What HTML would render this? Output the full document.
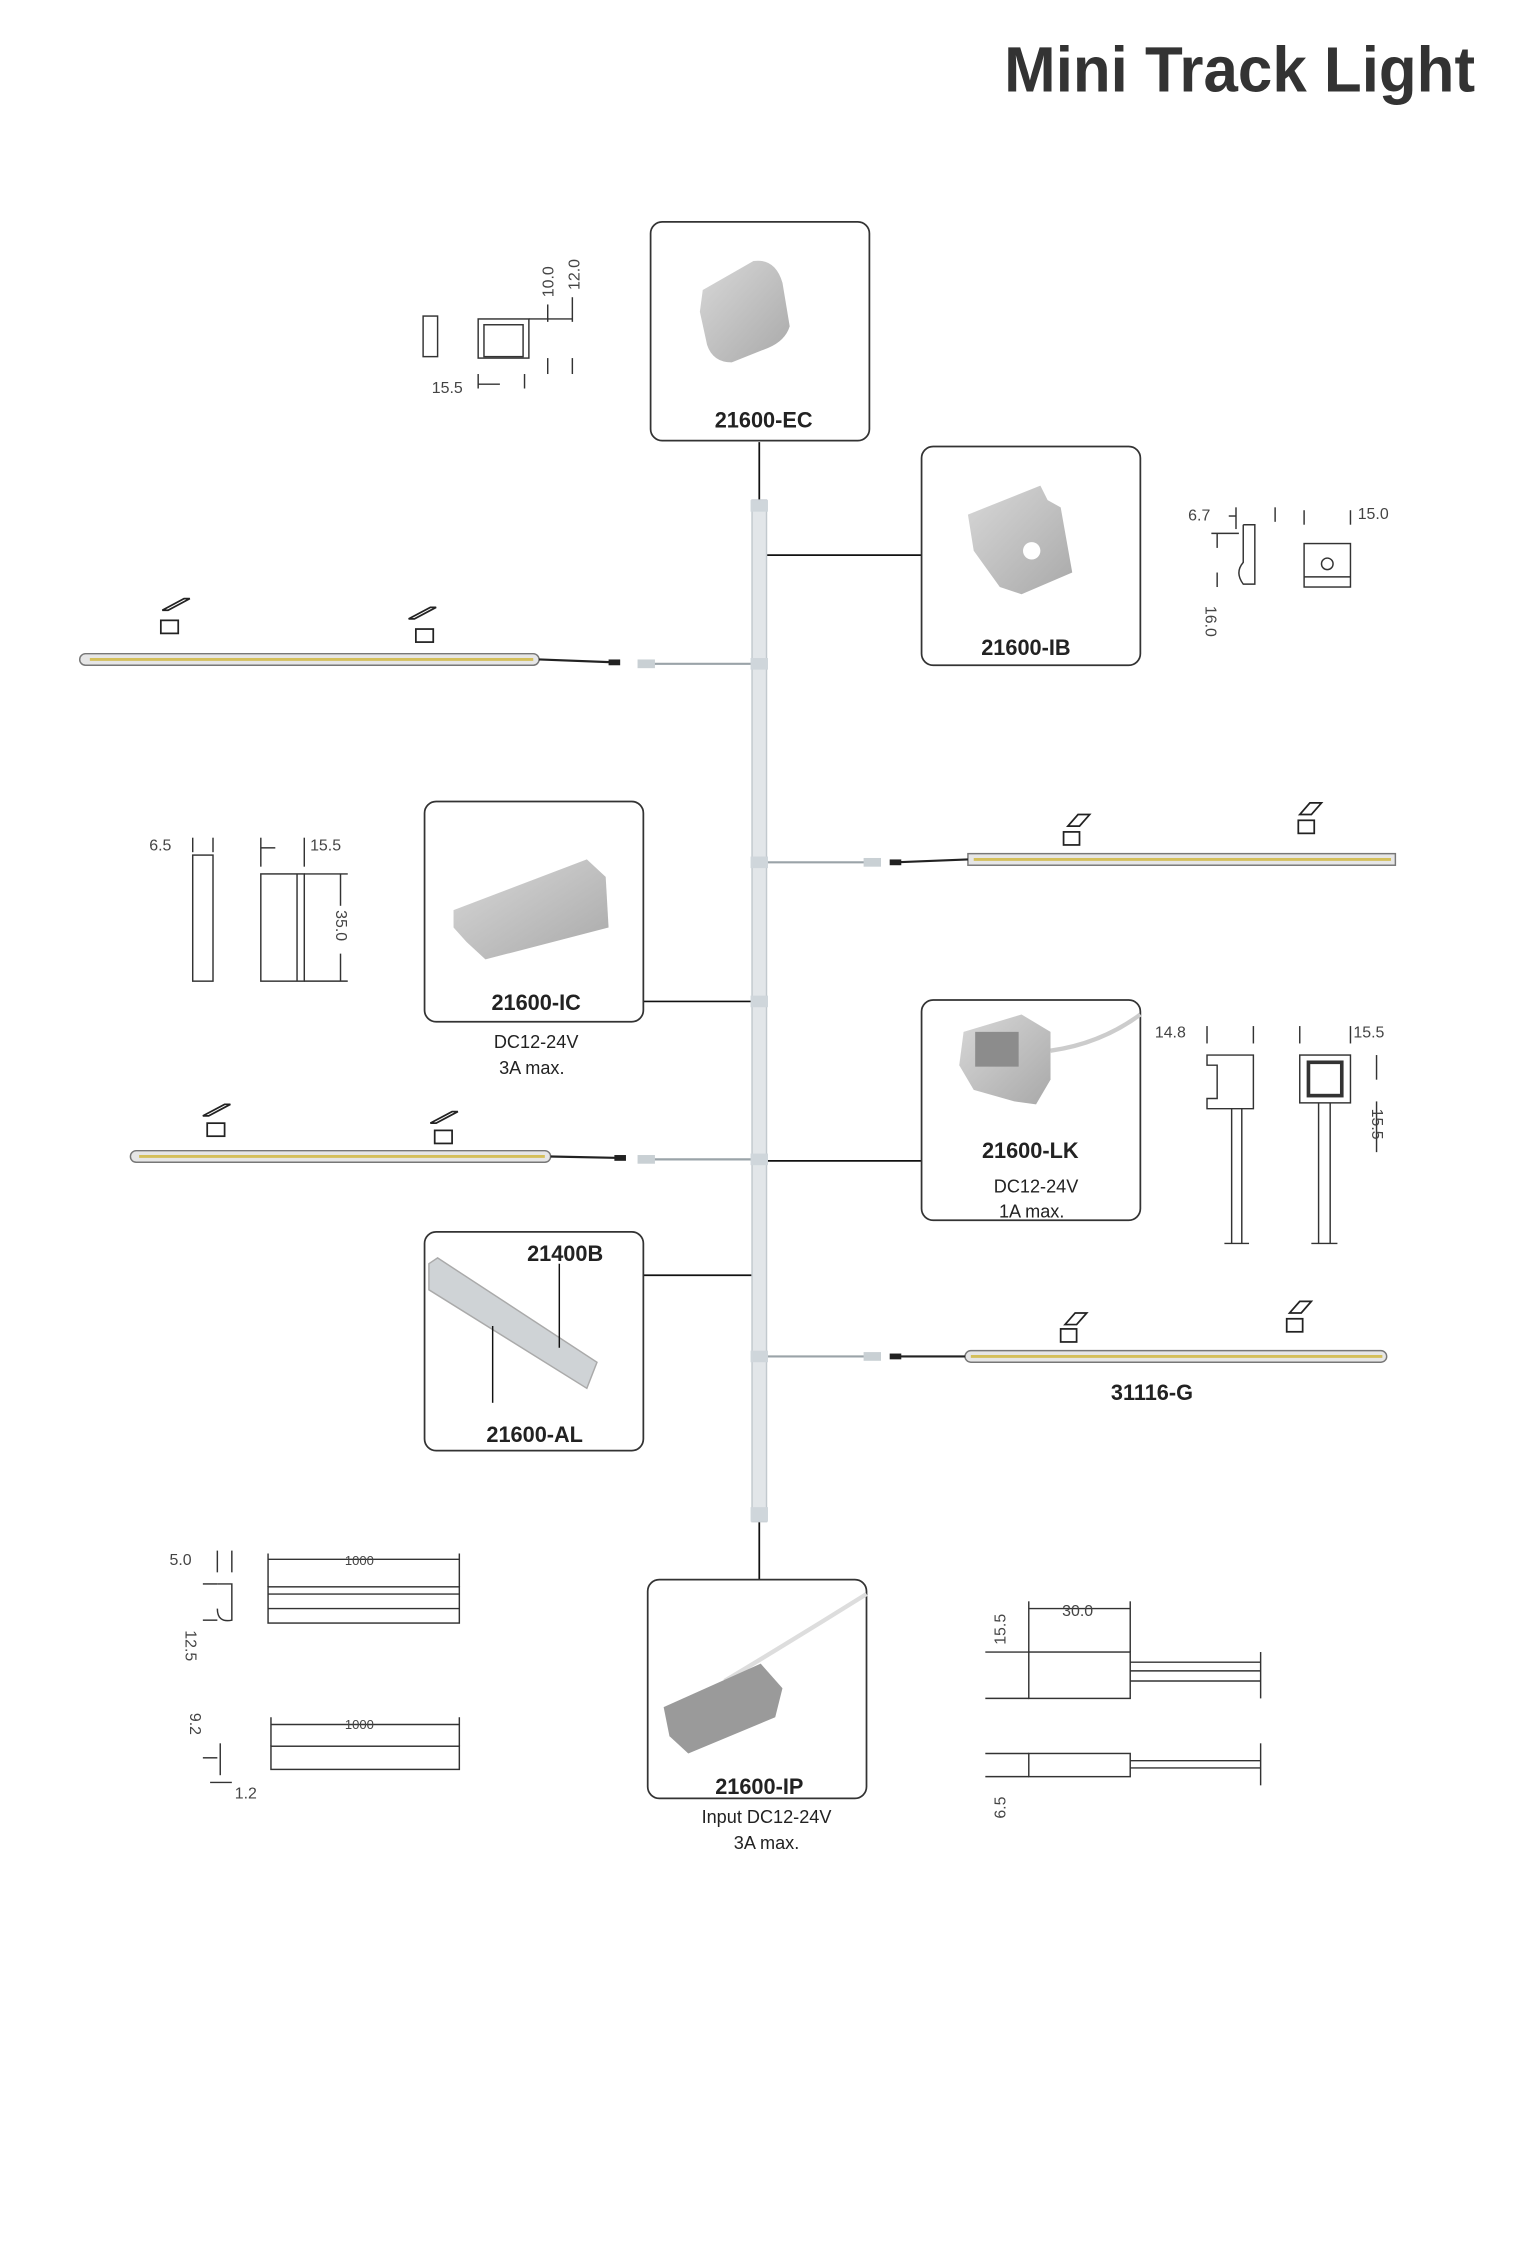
<!DOCTYPE html>
<html><head><meta charset="utf-8"><style>
html,body{margin:0;padding:0;background:#fff;}
svg{display:block}
text{font-family:"Liberation Sans",sans-serif;fill:#222}
.b{font-weight:bold;font-size:15px}
.s{font-size:12.5px}
.d{font-size:11px;fill:#444}
</style></head><body>
<svg width="1520" height="2255" viewBox="0 0 1049 1556" xmlns="http://www.w3.org/2000/svg">
<defs>
<linearGradient id="g" x1="0" y1="0" x2="1" y2="1"><stop offset="0" stop-color="#d8d8d8"/><stop offset="1" stop-color="#a9a9a9"/></linearGradient>
</defs>
<text x="1018" y="63" text-anchor="end" font-size="44" font-weight="bold" textLength="325" lengthAdjust="spacingAndGlyphs" style="fill:#333">Mini Track Light</text>

<g stroke="#111" stroke-width="1.2" fill="none">
<line x1="524" y1="305" x2="524" y2="345"/>
<line x1="524" y1="1050" x2="524" y2="1090"/>
<line x1="529" y1="383" x2="636" y2="383"/>
<line x1="444" y1="691" x2="519" y2="691"/>
<line x1="529" y1="801" x2="636" y2="801"/>
<line x1="444" y1="880" x2="519" y2="880"/>
</g>
<g stroke="#9aa3a8" stroke-width="1.5">
<line x1="447" y1="458" x2="519" y2="458"/>
<line x1="529" y1="595" x2="605" y2="595"/>
<line x1="447" y1="800" x2="519" y2="800"/>
<line x1="529" y1="936" x2="605" y2="936"/>
</g>
<rect x="519" y="345" width="10" height="705" fill="#e2e6e9" stroke="#c2c9ce"/>
<g fill="#cfd6db"><rect x="518" y="345" width="12" height="8"/><rect x="518" y="454" width="12" height="8"/><rect x="518" y="591" width="12" height="8"/><rect x="518" y="687" width="12" height="8"/><rect x="518" y="796" width="12" height="8"/><rect x="518" y="932" width="12" height="8"/><rect x="518" y="1040" width="12" height="10"/></g>
<g fill="#c9d0d4"><rect x="440" y="455" width="12" height="6"/><rect x="596" y="592" width="12" height="6"/><rect x="440" y="797" width="12" height="6"/><rect x="596" y="933" width="12" height="6"/></g>

<g fill="#fff" stroke="#333" stroke-width="1.2">
<rect x="449" y="153" width="151" height="151" rx="8"/>
<rect x="636" y="308" width="151" height="151" rx="8"/>
<rect x="293" y="553" width="151" height="152" rx="8"/>
<rect x="636" y="690" width="151" height="152" rx="8"/>
<rect x="293" y="850" width="151" height="151" rx="8"/>
<rect x="447" y="1090" width="151" height="151" rx="8"/>
</g>

<path d="M485 200 L520 180 Q535 178 540 195 L545 225 Q542 235 530 240 L505 250 Q492 250 488 238 L483 215 Z" fill="url(#g)"/>
<text class="b" x="527" y="295" text-anchor="middle">21600-EC</text>
<path d="M668 355 L718 335 L723 345 L732 350 L740 395 L705 410 L690 405 L672 380 Z" fill="url(#g)"/>
<circle cx="712" cy="380" r="6" fill="#fff"/>
<text class="b" x="708" y="452" text-anchor="middle">21600-IB</text>
<path d="M313 628 L405 593 L418 605 L420 640 L335 662 L322 650 L313 640 Z" fill="url(#g)"/>
<text class="b" x="370" y="697" text-anchor="middle">21600-IC</text>
<text class="s" x="370" y="723" text-anchor="middle">DC12-24V</text>
<text class="s" x="367" y="741" text-anchor="middle">3A max.</text>
<path d="M725 725 Q760 720 787 700" stroke="#ccc" stroke-width="3" fill="none"/>
<path d="M665 712 L705 700 L725 712 L725 745 L715 762 L700 760 L672 752 L662 735 Z" fill="url(#g)"/>
<rect x="673" y="712" width="30" height="24" fill="#8c8c8c"/>
<text class="b" x="711" y="799" text-anchor="middle">21600-LK</text>
<text class="s" x="715" y="823" text-anchor="middle">DC12-24V</text>
<text class="s" x="712" y="840" text-anchor="middle">1A max.</text>
<path d="M296 872 L302 868 L412 940 L405 958 L296 890 Z" fill="#cfd3d6" stroke="#aaa"/>
<g stroke="#111" stroke-width="1"><line x1="386" y1="872" x2="386" y2="930"/><line x1="340" y1="915" x2="340" y2="968"/></g>
<text class="b" x="390" y="870" text-anchor="middle">21400B</text>
<text class="b" x="369" y="995" text-anchor="middle">21600-AL</text>
<path d="M500 1160 Q550 1130 598 1100" stroke="#ddd" stroke-width="3" fill="none"/>
<path d="M458 1178 L525 1148 L540 1165 L535 1185 L475 1210 L462 1198 Z" fill="#9a9a9a"/>
<text class="b" x="524" y="1238" text-anchor="middle">21600-IP</text>
<text class="s" x="529" y="1258" text-anchor="middle">Input DC12-24V</text>
<text class="s" x="529" y="1276" text-anchor="middle">3A max.</text>

<g>
<rect x="55" y="451" width="317" height="8" rx="4" fill="#e6e6e6" stroke="#777"/><line x1="62" y1="455" x2="368" y2="455" stroke="#d4bf5a" stroke-width="2"/>
<path d="M372 455 L425 457" stroke="#222" stroke-width="1.5"/><rect x="420" y="455" width="8" height="4" fill="#222"/>
<rect x="668" y="589" width="295" height="8" fill="#e6e6e6" stroke="#777"/><line x1="672" y1="593" x2="960" y2="593" stroke="#d4bf5a" stroke-width="2"/>
<path d="M618 595 L668 593" stroke="#222" stroke-width="1.5"/><rect x="614" y="593" width="8" height="4" fill="#222"/>
<rect x="90" y="794" width="290" height="8" rx="4" fill="#e6e6e6" stroke="#777"/><line x1="96" y1="798" x2="376" y2="798" stroke="#d4bf5a" stroke-width="2"/>
<path d="M380 798 L428 799" stroke="#222" stroke-width="1.5"/><rect x="424" y="797" width="8" height="4" fill="#222"/>
<rect x="666" y="932" width="291" height="8" rx="4" fill="#e6e6e6" stroke="#777"/><line x1="670" y1="936" x2="954" y2="936" stroke="#d4bf5a" stroke-width="2"/>
<path d="M618 936 L666 936" stroke="#222" stroke-width="1.5"/><rect x="614" y="934" width="8" height="4" fill="#222"/>
</g>
<g fill="none" stroke="#222" stroke-width="1.2">
<path d="M112 421 L127 413 L131 413 L116 421 Z"/><rect x="111" y="428" width="12" height="9"/>
<path d="M282 427 L297 419 L301 419 L286 427 Z"/><rect x="287" y="434" width="12" height="9"/>
<path d="M737 570 L744 562 L752 562 L745 570 Z"/><rect x="734" y="574" width="11" height="9"/>
<path d="M897 562 L904 554 L912 554 L905 562 Z"/><rect x="896" y="566" width="11" height="9"/>
<path d="M140 770 L155 762 L159 762 L144 770 Z"/><rect x="143" y="775" width="12" height="9"/>
<path d="M297 775 L312 767 L316 767 L301 775 Z"/><rect x="300" y="780" width="12" height="9"/>
<path d="M735 914 L742 906 L750 906 L743 914 Z"/><rect x="732" y="917" width="11" height="9"/>
<path d="M890 906 L897 898 L905 898 L898 906 Z"/><rect x="888" y="910" width="11" height="9"/>
</g>
<text class="b" x="795" y="966" text-anchor="middle">31116-G</text>

<g fill="none" stroke="#333" stroke-width="1">
<rect x="292" y="218" width="10" height="28"/><rect x="330" y="220" width="35" height="27"/><rect x="334" y="224" width="27" height="22"/>
<line x1="365" y1="220" x2="395" y2="220"/><line x1="378" y1="210" x2="378" y2="222"/><line x1="395" y1="205" x2="395" y2="222"/>
<line x1="378" y1="247" x2="378" y2="258"/><line x1="395" y1="247" x2="395" y2="258"/>
<line x1="330" y1="258" x2="330" y2="268"/><line x1="362" y1="258" x2="362" y2="268"/><line x1="330" y1="265" x2="345" y2="265"/>
<line x1="853" y1="350" x2="853" y2="365"/><line x1="880" y1="350" x2="880" y2="360"/><line x1="848" y1="356" x2="853" y2="356"/>
<path d="M858 362 L866 362 L866 403 L858 403 Q852 395 858 388 L858 362"/>
<line x1="840" y1="368" x2="840" y2="378"/><line x1="840" y1="395" x2="840" y2="405"/><line x1="836" y1="368" x2="855" y2="368"/>
<rect x="900" y="375" width="32" height="30"/><circle cx="916" cy="389" r="4"/><line x1="900" y1="398" x2="932" y2="398"/>
<line x1="900" y1="352" x2="900" y2="362"/><line x1="932" y1="352" x2="932" y2="362"/>
<rect x="133" y="590" width="14" height="87"/><line x1="133" y1="578" x2="133" y2="588"/><line x1="147" y1="578" x2="147" y2="588"/>
<rect x="180" y="603" width="30" height="74"/><line x1="205" y1="603" x2="205" y2="677"/>
<line x1="180" y1="578" x2="180" y2="598"/><line x1="210" y1="578" x2="210" y2="598"/><line x1="180" y1="585" x2="190" y2="585"/>
<line x1="210" y1="603" x2="240" y2="603"/><line x1="210" y1="677" x2="240" y2="677"/><line x1="235" y1="603" x2="235" y2="625"/><line x1="235" y1="658" x2="235" y2="677"/>
<line x1="833" y1="708" x2="833" y2="720"/><line x1="865" y1="708" x2="865" y2="720"/>
<path d="M833 728 L865 728 L865 765 L833 765 L833 758 L840 758 L840 735 L833 735 Z"/>
<line x1="850" y1="765" x2="850" y2="858"/><line x1="857" y1="765" x2="857" y2="858"/><line x1="845" y1="858" x2="862" y2="858"/>
<rect x="897" y="728" width="35" height="33"/><rect x="903" y="733" width="23" height="23" stroke-width="2.5"/>
<line x1="910" y1="761" x2="910" y2="858"/><line x1="918" y1="761" x2="918" y2="858"/><line x1="905" y1="858" x2="923" y2="858"/>
<line x1="897" y1="708" x2="897" y2="720"/><line x1="932" y1="708" x2="932" y2="720"/>
<line x1="950" y1="728" x2="950" y2="745"/><line x1="950" y1="795" x2="950" y2="760"/>
<line x1="150" y1="1070" x2="150" y2="1085"/><line x1="160" y1="1070" x2="160" y2="1085"/>
<path d="M150 1093 L160 1093 L160 1118 Q150 1120 150 1110"/><line x1="140" y1="1093" x2="150" y2="1093"/><line x1="140" y1="1118" x2="150" y2="1118"/>
<rect x="185" y="1095" width="132" height="25"/><line x1="185" y1="1100" x2="317" y2="1100"/><line x1="185" y1="1110" x2="317" y2="1110"/>
<line x1="185" y1="1072" x2="185" y2="1095"/><line x1="317" y1="1072" x2="317" y2="1095"/><line x1="185" y1="1076" x2="317" y2="1076"/>
<path d="M152 1203 L152 1225"/><line x1="140" y1="1213" x2="150" y2="1213"/><line x1="145" y1="1230" x2="160" y2="1230"/>
<rect x="187" y="1205" width="130" height="16"/><line x1="187" y1="1185" x2="187" y2="1205"/><line x1="317" y1="1185" x2="317" y2="1205"/><line x1="187" y1="1190" x2="317" y2="1190"/>
<line x1="710" y1="1105" x2="710" y2="1140"/><line x1="780" y1="1105" x2="780" y2="1140"/><line x1="710" y1="1110" x2="780" y2="1110"/>
<rect x="710" y="1140" width="70" height="32"/><line x1="780" y1="1147" x2="870" y2="1147"/><line x1="780" y1="1153" x2="870" y2="1153"/><line x1="780" y1="1160" x2="870" y2="1160"/><line x1="870" y1="1140" x2="870" y2="1172"/>
<line x1="680" y1="1140" x2="710" y2="1140"/><line x1="680" y1="1172" x2="710" y2="1172"/>
<rect x="710" y="1210" width="70" height="16"/><line x1="780" y1="1215" x2="870" y2="1215"/><line x1="780" y1="1220" x2="870" y2="1220"/><line x1="870" y1="1203" x2="870" y2="1232"/>
<line x1="680" y1="1210" x2="710" y2="1210"/><line x1="680" y1="1226" x2="710" y2="1226"/>
</g>
<g class="d">
<text class="d" transform="translate(382,205) rotate(-90)">10.0</text>
<text class="d" transform="translate(400,200) rotate(-90)">12.0</text>
<text class="d" x="298" y="271">15.5</text>
<text class="d" x="820" y="359">6.7</text>
<text class="d" transform="translate(832,418) rotate(90)">16.0</text>
<text class="d" x="937" y="358">15.0</text>
<text class="d" x="103" y="587">6.5</text>
<text class="d" x="214" y="587">15.5</text>
<text class="d" transform="translate(232,628) rotate(90)">35.0</text>
<text class="d" x="797" y="716">14.8</text>
<text class="d" x="934" y="716">15.5</text>
<text class="d" transform="translate(947,765) rotate(90)">15.5</text>
<text class="d" x="117" y="1080">5.0</text>
<text class="d" x="238" y="1080" style="font-size:9px">1000</text>
<text class="d" transform="translate(128,1125) rotate(90)">12.5</text>
<text class="d" transform="translate(131,1182) rotate(90)">9.2</text>
<text class="d" x="238" y="1193" style="font-size:9px">1000</text>
<text class="d" x="162" y="1241">1.2</text>
<text class="d" x="733" y="1115">30.0</text>
<text class="d" transform="translate(694,1135) rotate(-90)">15.5</text>
<text class="d" transform="translate(694,1255) rotate(-90)">6.5</text>
</g>
</svg>
</body></html>
